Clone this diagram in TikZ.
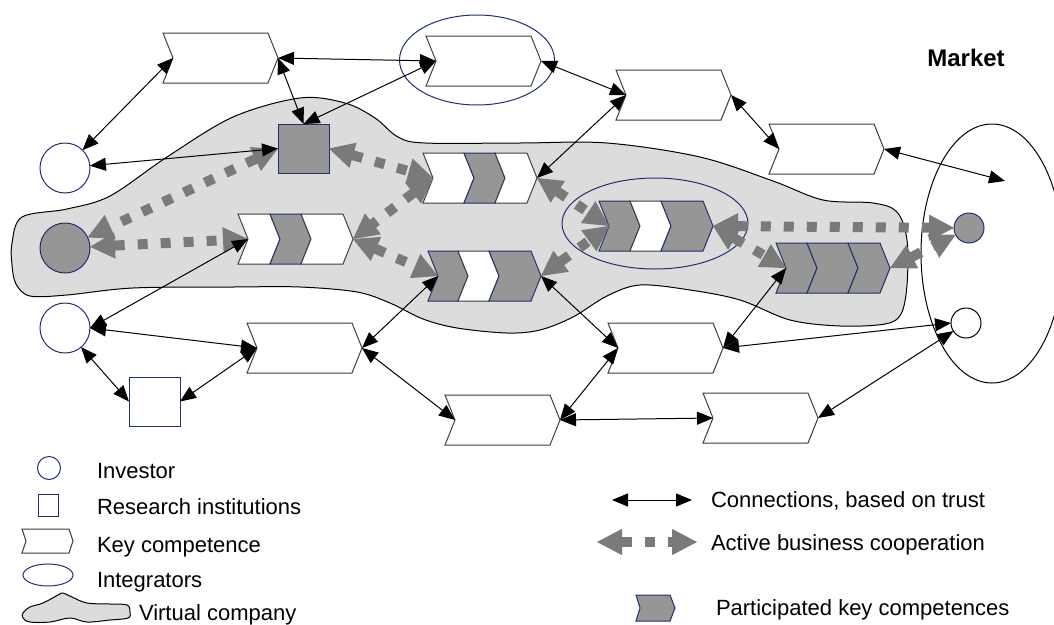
\documentclass[tikz,border=0pt]{standalone}
\usepackage{fontspec}
\setmainfont{Liberation Sans}
\usetikzlibrary{arrows.meta, positioning, shapes.geometric}

\definecolor{navy}{HTML}{1F3070}
\definecolor{pkgray}{HTML}{969696}
\definecolor{vcgray}{HTML}{DCDCDC}
\definecolor{coopgray}{HTML}{7A7A7A}
\definecolor{kcline}{HTML}{3C3C3C}

\tikzset{
    segw/.style={fill=white, draw=kcline, line width=1pt},
    segg/.style={fill=pkgray, draw=navy, line width=1pt},
}

% one chevron: left x, right x, top y, style
\newcommand{\chevseg}[4]{%
    \filldraw[#4] (#1,#3) -- (#2,#3) -- (#2+10,#3+25) -- (#2,#3+50)
        -- (#1,#3+50) -- (#1+10,#3+25) -- cycle;
}
% key competence: name, left x, top y
\newcommand{\keycomp}[3]{%
    \chevseg{#2}{#2+105}{#3}{segw}
    \coordinate (#1-in) at (#2+10,#3+25);
    \coordinate (#1-out) at (#2+115,#3+25);
}
% participated key competences: name, top y, four x, three styles
\newcommand{\partcomp}[9]{%
    \chevseg{#3}{#4}{#2}{#7}
    \chevseg{#4}{#5}{#2}{#8}
    \chevseg{#5}{#6}{#2}{#9}
    \coordinate (#1-in) at (#3+10,#2+25);
    \coordinate (#1-out) at (#6+10,#2+25);
}

\begin{document}
\begin{tikzpicture}[
    x=1pt, y=-1pt,
    every node/.style={inner sep=0pt, outer sep=0pt},
    investor/.style={circle, draw=navy, line width=1pt, fill=white, minimum size=50pt},
    research/.style={rectangle, draw=navy, line width=1pt, fill=white, minimum width=51pt, minimum height=49pt},
    integrator/.style={ellipse, draw=navy, line width=1pt},
    trust/.style={<->, >={Triangle[length=16pt, width=13pt]}, line width=1pt},
    coop/.style={<->, >={Triangle[length=25pt, width=26pt, line width=1pt]}, draw=coopgray, line width=10pt, dash pattern=on 10pt off 13pt},
    lbl/.style={anchor=base west, font=\fontsize{22pt}{26pt}\selectfont}
]
\useasboundingbox (0,0) rectangle (1054,624);

% Virtual company
\filldraw[fill=vcgray, draw=black, line width=1pt] plot[smooth cycle, tension=0.55] coordinates {
    (12,243) (22,217) (67,209) (110,196) (167,157) (233,117) (300,98) (345,103)
    (375,118) (398,137) (425,143) (520,143) (607,143) (700,157) (773,181) (823,200)
    (873,203) (897,212) (907,240) (907,285) (901,314) (885,324) (840,326) (790,320)
    (740,300) (690,290) (640,285) (607,296) (573,317) (540,330) (507,333) (457,328)
    (423,319) (390,303) (357,292) (300,287) (233,287) (133,288) (67,295) (30,296)
    (16,284) (12,265)};

% Integrators and market
\node[integrator, minimum width=155pt, minimum height=90pt] (intg1) at (477,60) {};
\node[integrator, minimum width=186pt, minimum height=91pt] (intg2) at (655,223.5) {};
\node[ellipse, draw, line width=1pt, minimum width=142pt, minimum height=259pt] (mkt) at (992,253.5) {};
\node[font=\bfseries\fontsize{24pt}{28pt}\selectfont, anchor=base] (mktlbl) at (966,66) {Market};

% Key competences
\keycomp{kc1}{163}{33}
\keycomp{kc2}{426}{36}
\keycomp{kc3}{616}{70}
\keycomp{kc4}{769}{124}
\keycomp{kc5}{247}{323}
\keycomp{kc6}{445}{395}
\keycomp{kc7}{608}{323}
\keycomp{kc8}{703}{393}

% Participated key competences
\partcomp{pkc1}{214}{238}{270}{301}{343}{segw}{segg}{segw}
\partcomp{pkc2}{153}{423}{464}{495}{527}{segw}{segg}{segw}
\partcomp{pkc3}{251}{428}{458}{489}{531}{segg}{segw}{segg}
\partcomp{pkc4}{201}{599}{630}{661}{703}{segg}{segw}{segg}
\partcomp{pkc5}{243}{776}{807}{848}{880}{segg}{segg}{segg}

% Investors and research institutions
\node[investor] (inv1) at (65,168) {};
\node[investor, fill=pkgray] (inv2) at (65,248) {};
\node[investor] (inv3) at (65,328) {};
\node[investor, minimum size=30pt, fill=pkgray] (mkinv1) at (969,228) {};
\node[investor, minimum size=30pt, draw=black] (mkinv2) at (966,323) {};
\node[research] (res1) at (154.5,401.5) {};
\node[research, fill=pkgray] (res2) at (303.5,148.5) {};

% Active business cooperation
\draw[coop] (res2.west) -- (inv2);
\draw[coop] (inv2) -- (pkc1-in);
\draw[coop] (res2.east) -- (pkc2-in);
\draw[coop] (pkc2-in) -- (pkc1-out);
\draw[coop] (pkc1-out) -- (pkc3-in);
\draw[coop] (pkc2-out) -- (pkc4-in);
\draw[coop] (pkc3-out) -- (pkc4-in);
\draw[coop] (pkc4-out) -- (mkinv1);
\draw[coop] (pkc4-out) -- (pkc5-in);
\draw[coop] (pkc5-out) -- (mkinv1);

% Connections, based on trust
\coordinate (mkpt) at (1005,181);
\draw[trust] (inv1) -- (kc1-in);
\draw[trust] (kc1-out) -- (kc2-in);
\draw[trust] (kc1-out) -- (res2.north);
\draw[trust] (res2.north) -- (kc2-in);
\draw[trust] (inv1) -- (res2.west);
\draw[trust] (kc2-out) -- (kc3-in);
\draw[trust] (kc3-in) -- (pkc2-out);
\draw[trust] (kc3-out) -- (kc4-in);
\draw[trust] (kc4-out) -- (mkpt);
\draw[trust] (inv3.east) -- (pkc1-in);
\draw[trust] (inv3.east) -- (kc5-in);
\draw[trust] (inv3.-50) -- (res1.west);
\draw[trust] (res1.east) -- (kc5-in);
\draw[trust] (kc5-out) -- (pkc3-in);
\draw[trust] (kc5-out) -- (kc6-in);
\draw[trust] (pkc3-out) -- (kc7-in);
\draw[trust] (kc6-out) -- (kc7-in);
\draw[trust] (kc6-out) -- (kc8-in);
\draw[trust] (kc7-out) -- (pkc5-in);
\draw[trust] (kc7-out) -- (mkinv2.west);
\draw[trust] (kc8-out) -- (mkinv2);

% Legend
\node[investor, minimum size=23pt] (lginv) at (49,468) {};
\node[lbl] (lginvtxt) at (97,478) {Investor};
\node[research, minimum width=20pt, minimum height=22pt] (lgres) at (48,505) {};
\node[lbl] (lgrestxt) at (97,514) {Research institutions};
\filldraw[segw] (22,529) -- (69,529) -- (73,541) -- (69,553) -- (22,553) -- (26,541) -- cycle;
\node[lbl] (lgkctxt) at (97,552) {Key competence};
\node[integrator, minimum width=50pt, minimum height=22pt] (lgintg) at (48,575) {};
\node[lbl] (lgintgtxt) at (97,587) {Integrators};
\filldraw[fill=vcgray, draw=black, line width=1pt] plot[smooth cycle, tension=0.6] coordinates {
    (23,613) (30,607) (43,603) (58,595) (63,593) (72,597) (87,603) (110,604)
    (127,605) (130,612) (128,618) (110,620) (87,622) (70,618) (50,622) (30,622) (23,618)};
\node[lbl] (lgvctxt) at (139,620) {Virtual company};

\coordinate (lgt1) at (612,500);
\coordinate (lgt2) at (692,500);
\draw[trust] (lgt1) -- (lgt2);
\node[lbl] (lgttxt) at (711,507) {Connections, based on trust};
\coordinate (lgc1) at (597,542);
\coordinate (lgc2) at (697,542);
\draw[coop] (lgc1) -- (lgc2);
\node[lbl] (lgctxt) at (711,550) {Active business cooperation};
\filldraw[segg] (636,595) -- (670,595) -- (675,608) -- (670,621) -- (636,621) -- (640,608) -- cycle;
\node[lbl] (lgptxt) at (716,615) {Participated key competences};

\end{tikzpicture}
\end{document}
